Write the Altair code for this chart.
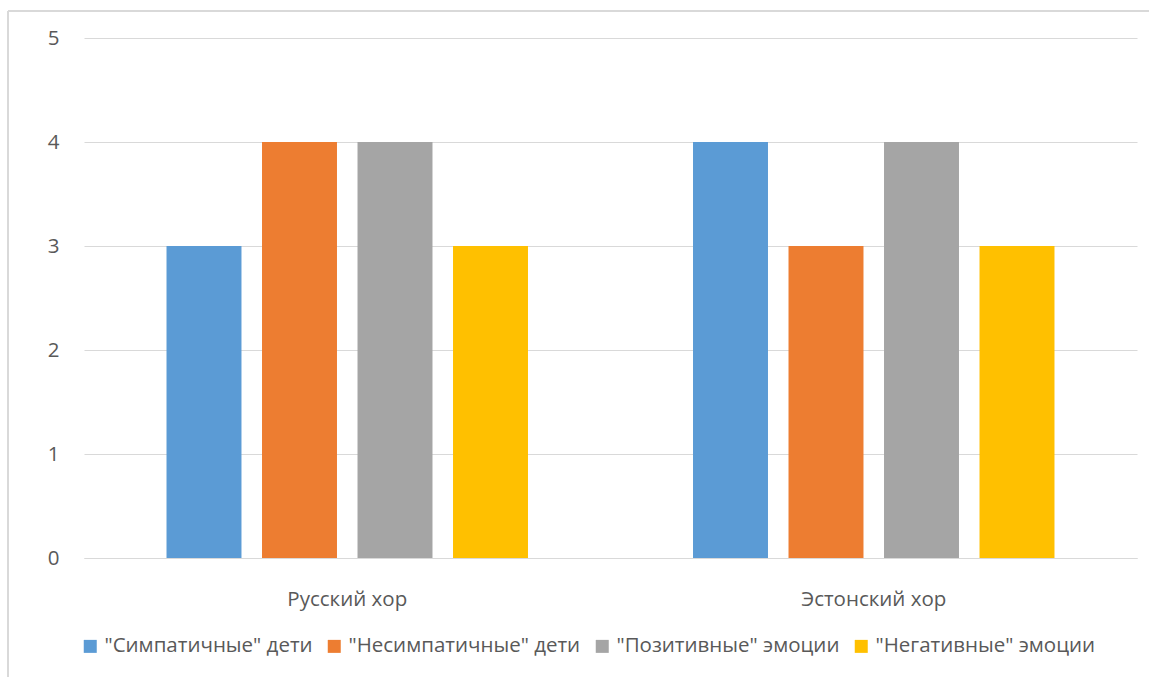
import altair as alt
import pandas as pd

choirs = ["Русский хор", "Эстонский хор"]
series = ['"Симпатичные" дети', '"Несимпатичные" дети', '"Позитивные" эмоции', '"Негативные" эмоции']
colors = ["#5B9BD5", "#ED7D31", "#A5A5A5", "#FFC000"]
russian = [3, 4, 4, 3]
estonian = [4, 3, 4, 3]

rows = []
for s, r, e in zip(series, russian, estonian):
    rows.append({"choir": choirs[0], "series": s, "value": r})
    rows.append({"choir": choirs[1], "series": s, "value": e})
df = pd.DataFrame(rows)

FONT = "Open Sans"
SIZE = 20.5
TEXT = "#595959"
GRID = "#D9D9D9"

bars = alt.Chart(df).mark_bar().encode(
    x=alt.X("choir:N", sort=choirs, title=None,
            scale=alt.Scale(paddingInner=0, paddingOuter=0),
            axis=alt.Axis(labelAngle=0, ticks=False, domainColor=GRID, domainWidth=1,
                          labelPadding=31, labelFontSize=SIZE, labelColor=TEXT, labelFont=FONT)),
    xOffset=alt.XOffset("series:N", sort=series,
                        scale=alt.Scale(paddingInner=0.215, paddingOuter=0.864)),
    y=alt.Y("value:Q", title=None,
            scale=alt.Scale(domain=[0, 5], nice=False),
            axis=alt.Axis(values=[0, 1, 2, 3, 4, 5], ticks=False, domain=False,
                          gridColor=GRID, gridWidth=1, labelPadding=25,
                          labelFontSize=SIZE, labelColor=TEXT, labelFont=FONT)),
    color=alt.Color("series:N", sort=series,
                    scale=alt.Scale(domain=series, range=colors),
                    legend=alt.Legend(title=None, orient="none", direction="horizontal",
                                      legendX=-4, legendY=598,
                                      symbolType="square", symbolSize=169,
                                      symbolStrokeWidth=0, labelFontSize=SIZE,
                                      labelColor=TEXT, labelFont=FONT, labelLimit=400,
                                      columnPadding=11, labelOffset=4)),
)

# outer frame of the chart
frame_left = alt.Chart(df).mark_rule(color=GRID, strokeWidth=2).encode(
    x=alt.value(-76), y=alt.value(-27), y2=alt.value(660))
frame_top = alt.Chart(df).mark_rule(color=GRID, strokeWidth=1.5).encode(
    x=alt.value(-76), x2=alt.value(1080), y=alt.value(-27))

chart = alt.layer(frame_left, frame_top, bars).properties(
    width=1053, height=520,
    background="white",
    autosize=alt.AutoSizeParams(type="none"),
    padding={"left": 84, "top": 38, "right": 12, "bottom": 119},
).configure_view(stroke=None)

chart.save("out.html", embed_options={"renderer": "svg", "actions": False})
